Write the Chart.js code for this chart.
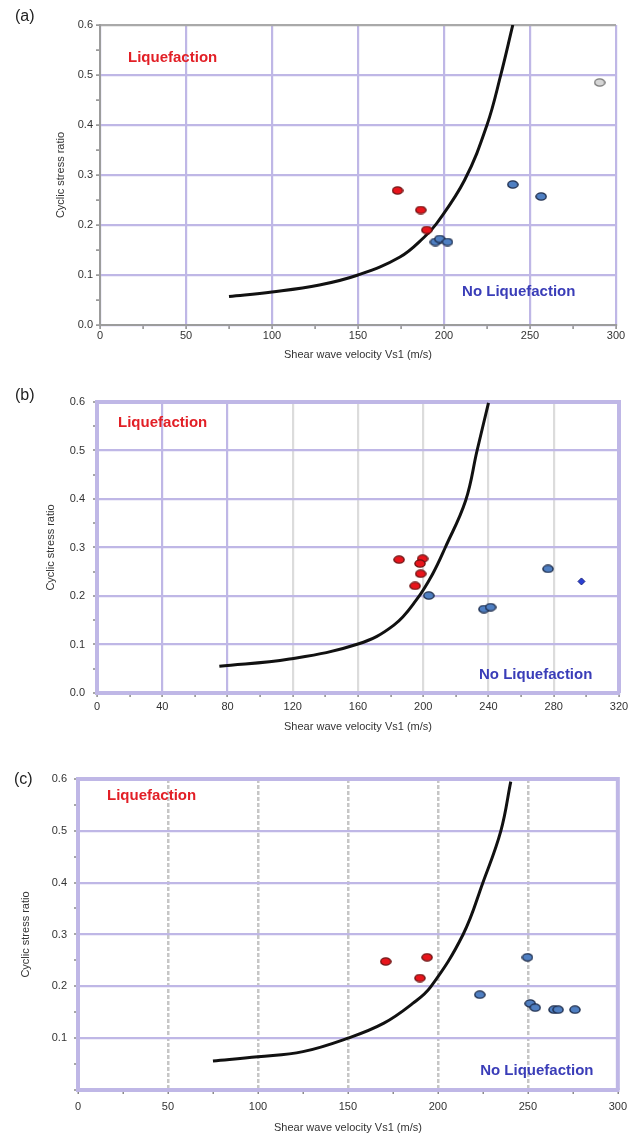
<!DOCTYPE html>
<html>
<head>
<meta charset="utf-8">
<script src="https://cdn.jsdelivr.net/npm/chart.js@4.4.0/dist/chart.umd.min.js"></script>
<style>
  html, body { margin: 0; padding: 0; background: #fff; }
  body { width: 633px; height: 1135px; position: relative; overflow: hidden; font-family: "Liberation Sans", Arial, sans-serif; }
  .panel { position: absolute; left: 0; width: 633px; }
  .tag { position: absolute; font-size: 16px; color: #222; }
</style>
</head>
<body>
<div class="panel" style="top:0;height:368px"><canvas id="chartA"></canvas></div>
<div class="panel" style="top:368px;height:372px"><canvas id="chartB"></canvas></div>
<div class="panel" style="top:740px;height:395px"><canvas id="chartC"></canvas></div>
<div class="tag" style="left:15px;top:7px">(a)</div>
<div class="tag" style="left:15px;top:386px">(b)</div>
<div class="tag" style="left:14px;top:770px">(c)</div>

<script>
// Panel (a) data
const curveA_x = [75, 100, 127.6, 150, 174.4, 188.6, 195.7, 212, 225, 233, 240];
const curveA_y = [0.057, 0.066, 0.080, 0.100, 0.136, 0.176, 0.203, 0.29, 0.40, 0.50, 0.60];
const liqA_x = [173, 186.5, 190];
const liqA_y = [0.269, 0.230, 0.190];
const noLiqA_x = [195, 197.5, 202, 240, 256.5];
const noLiqA_y = [0.166, 0.172, 0.166, 0.281, 0.257];
const greyA_x = [290.5];
const greyA_y = [0.485];

// Panel (b) data
const curveB_x = [75, 118, 160, 182, 196, 206, 213.5, 226, 233, 240];
const curveB_y = [0.055, 0.070, 0.101, 0.140, 0.193, 0.247, 0.30, 0.397, 0.50, 0.598];
const liqB_x = [185.2, 199.6, 198, 198.4, 195];
const liqB_y = [0.275, 0.277, 0.267, 0.246, 0.221];
const noLiqB_x = [203.4, 237.2, 241.3, 276.5];
const noLiqB_y = [0.201, 0.173, 0.177, 0.256];
const diamondB_x = [297];
const diamondB_y = [0.230];

// Panel (c) data
const curveC_x = [75, 100, 125, 150, 170, 186, 196, 214, 225, 235, 240.5];
const curveC_y = [0.056, 0.064, 0.074, 0.100, 0.129, 0.167, 0.199, 0.30, 0.40, 0.50, 0.595];
const liqC_x = [171, 194, 190];
const liqC_y = [0.248, 0.256, 0.216];
const noLiqC_x = [223.3, 249.8, 251.3, 254.1, 264.5, 266.8, 276.2];
const noLiqC_y = [0.184, 0.256, 0.167, 0.159, 0.155, 0.155, 0.155];

// Axis titles
const xTitle = 'Shear wave velocity Vs1 (m/s)';
const yTitle = 'Cyclic stress ratio';

Chart.defaults.font.family = '"Liberation Sans", Arial, sans-serif';
Chart.defaults.color = '#333';

const PURPLE = '#bfb7e6';
const CLEAR = 'rgba(0,0,0,0)';

function pairs(xs, ys) {
    return xs.map((x, i) => ({ x: x, y: ys[i] }));
}

// small oval markers like the original
function dot(fill, stroke) {
    const c = document.createElement('canvas');
    c.width = 12; c.height = 9;
    const g = c.getContext('2d');
    g.beginPath();
    g.ellipse(6, 4.5, 5.1, 3.6, 0, 0, Math.PI * 2);
    g.fillStyle = fill;
    g.fill();
    g.lineWidth = 1.4;
    g.strokeStyle = stroke;
    g.stroke();
    return c;
}
const redDot = dot('#e8141b', '#6e1212');
const blueDot = dot('#4f7fc2', '#1c2c4c');
const greyDot = dot('#d6d6d6', '#777');

const framePlugin = {
    id: 'frame',
    beforeDatasetsDraw(chart, args, opts) {
        if (!opts.color) return;
        const a = chart.chartArea, ctx = chart.ctx;
        ctx.save();
        ctx.strokeStyle = opts.color;
        ctx.lineWidth = opts.width;
        ctx.beginPath();
        ctx.moveTo(a.left, a.top);
        ctx.lineTo(a.right, a.top);
        ctx.lineTo(a.right, a.bottom);
        ctx.stroke();
        ctx.restore();
    }
};

const zonePlugin = {
    id: 'zones',
    afterDatasetsDraw(chart, args, opts) {
        const xs = chart.scales.x, ys = chart.scales.y, ctx = chart.ctx;
        ctx.save();
        ctx.font = 'bold 15px "Liberation Sans", Arial, sans-serif';
        ctx.textBaseline = 'middle';
        ctx.textAlign = 'left';
        (opts.items || []).forEach(it => {
            ctx.fillStyle = it.color;
            ctx.fillText(it.text, xs.getPixelForValue(it.x), ys.getPixelForValue(it.y));
        });
        ctx.restore();
    }
};

function curveSet(xs, ys) {
    return {
        data: pairs(xs, ys), showLine: true, borderColor: '#111', borderWidth: 3,
        pointRadius: 0, tension: 0.4, fill: false, order: 5
    };
}
function dotSet(xs, ys, img) {
    return { data: pairs(xs, ys), pointStyle: img, pointRadius: 5, order: 1 };
}

function isMajor(v, step) {
    return Math.abs(v / step - Math.round(v / step)) < 1e-6;
}

function buildChart(id, cfg) {
    new Chart(document.getElementById(id), {
        type: 'scatter',
        data: { datasets: cfg.datasets },
        plugins: [framePlugin, zonePlugin],
        options: {
            responsive: true,
            maintainAspectRatio: false,
            animation: false,
            layout: { padding: cfg.padding },
            plugins: {
                legend: { display: false },
                tooltip: { enabled: false },
                frame: cfg.frame,
                zones: { items: cfg.zones }
            },
            scales: {
                x: {
                    type: 'linear', min: 0, max: cfg.xMax,
                    afterFit: s => { s.height = cfg.xHeight; },
                    ticks: {
                        stepSize: cfg.xStep / 2, autoSkip: false, maxRotation: 0,
                        padding: cfg.xPad, color: '#333', font: { size: 11 },
                        callback: v => isMajor(v, cfg.xStep) ? v : ''
                    },
                    grid: {
                        color: cfg.xGrid, lineWidth: cfg.xGridWidth || 2.2,
                        tickLength: 4, tickColor: '#8a8a8a', tickWidth: 1.5
                    },
                    border: cfg.xBorder,
                    title: { display: true, text: xTitle, color: '#333', font: { size: 11 }, padding: cfg.xTitlePad }
                },
                y: {
                    type: 'linear', min: 0, max: 0.6,
                    afterFit: s => { s.width = cfg.yWidth; },
                    ticks: {
                        stepSize: 0.05, autoSkip: false, padding: cfg.yPad, color: '#333', font: { size: 11 },
                        callback: v => {
                            if (!isMajor(v, 0.1)) return '';
                            if (cfg.hideZero && v === 0) return '';
                            return v.toFixed(1);
                        }
                    },
                    grid: {
                        color: cfg.yGrid, lineWidth: 2.2,
                        tickLength: 4, tickColor: '#8a8a8a', tickWidth: 1.5
                    },
                    border: cfg.yBorder,
                    title: { display: true, text: yTitle, color: '#333', font: { size: 11 } }
                }
            }
        }
    });
}

const RED_TXT = '#e21f26';
const BLUE_TXT = '#3a3db8';

// (a)
buildChart('chartA', {
    datasets: [
        dotSet(liqA_x, liqA_y, redDot),
        dotSet(noLiqA_x, noLiqA_y, blueDot),
        dotSet(greyA_x, greyA_y, greyDot),
        curveSet(curveA_x, curveA_y)
    ],
    padding: { left: 50, right: 17, top: 25, bottom: 2 },
    xMax: 300, xStep: 50, xHeight: 41, xPad: 0, yWidth: 50, yPad: 3,
    xTitlePad: { top: 4, bottom: 4 },
    xGrid: c => {
        if (!c.tick) return CLEAR;
        return isMajor(c.tick.value, 50) ? PURPLE : CLEAR;
    },
    yGrid: c => {
        if (!c.tick) return CLEAR;
        if (c.tick.value >= 0.6) return '#a9a9a9';
        return isMajor(c.tick.value, 0.1) ? PURPLE : CLEAR;
    },
    xBorder: { color: '#9c9c9c', width: 2 },
    yBorder: { color: '#9c9c9c', width: 2 },
    frame: {},
    zones: [
        { text: 'Liquefaction', x: 16.3, y: 0.534, color: RED_TXT },
        { text: 'No Liquefaction', x: 210.5, y: 0.066, color: BLUE_TXT }
    ]
});

// (b)
buildChart('chartB', {
    datasets: [
        dotSet(liqB_x, liqB_y, redDot),
        dotSet(noLiqB_x, noLiqB_y, blueDot),
        { data: pairs(diamondB_x, diamondB_y), pointStyle: 'rectRot', pointRadius: 3.5,
          backgroundColor: '#2a3fd4', borderColor: '#1a2580', borderWidth: 1, order: 1 },
        curveSet(curveB_x, curveB_y)
    ],
    padding: { left: 40, right: 14, top: 34, bottom: 2 },
    xMax: 320, xStep: 40, xHeight: 45, xPad: 3, yWidth: 57, yPad: 8,
    xTitlePad: { top: 4, bottom: 4 },
    xGrid: c => {
        if (!c.tick) return CLEAR;
        const v = c.tick.value;
        if (!isMajor(v, 40) || v >= 320) return CLEAR;
        return v <= 80 ? PURPLE : '#dcdcdc';
    },
    yGrid: c => {
        if (!c.tick) return CLEAR;
        const v = c.tick.value;
        if (v >= 0.6) return CLEAR;
        return isMajor(v, 0.1) ? PURPLE : CLEAR;
    },
    xBorder: { color: PURPLE, width: 4 },
    yBorder: { color: PURPLE, width: 4 },
    frame: { color: PURPLE, width: 4 },
    zones: [
        { text: 'Liquefaction', x: 12.9, y: 0.557, color: RED_TXT },
        { text: 'No Liquefaction', x: 234.2, y: 0.037, color: BLUE_TXT }
    ]
});

// (c)
buildChart('chartC', {
    datasets: [
        dotSet(liqC_x, liqC_y, redDot),
        dotSet(noLiqC_x, noLiqC_y, blueDot),
        curveSet(curveC_x, curveC_y)
    ],
    padding: { left: 15, right: 14, top: 39, bottom: 0 },
    xMax: 300, xStep: 50, xHeight: 45, xPad: 6, yWidth: 63, yPad: 7, hideZero: true,
    xTitlePad: { top: 4, bottom: 0 },
    xGrid: c => {
        if (!c.tick) return CLEAR;
        const v = c.tick.value;
        if (!isMajor(v, 50) || v >= 300) return CLEAR;
        return '#c6c6c6';
    },
    xGridWidth: 2.5,
    yGrid: c => {
        if (!c.tick) return CLEAR;
        const v = c.tick.value;
        if (v >= 0.6) return CLEAR;
        return isMajor(v, 0.1) ? PURPLE : CLEAR;
    },
    xBorder: { color: PURPLE, width: 4, dash: [4, 2] },
    yBorder: { color: PURPLE, width: 4 },
    frame: { color: PURPLE, width: 4 },
    zones: [
        { text: 'Liquefaction', x: 16.1, y: 0.567, color: RED_TXT },
        { text: 'No Liquefaction', x: 223.5, y: 0.037, color: BLUE_TXT }
    ]
});
</script>
</body>
</html>
